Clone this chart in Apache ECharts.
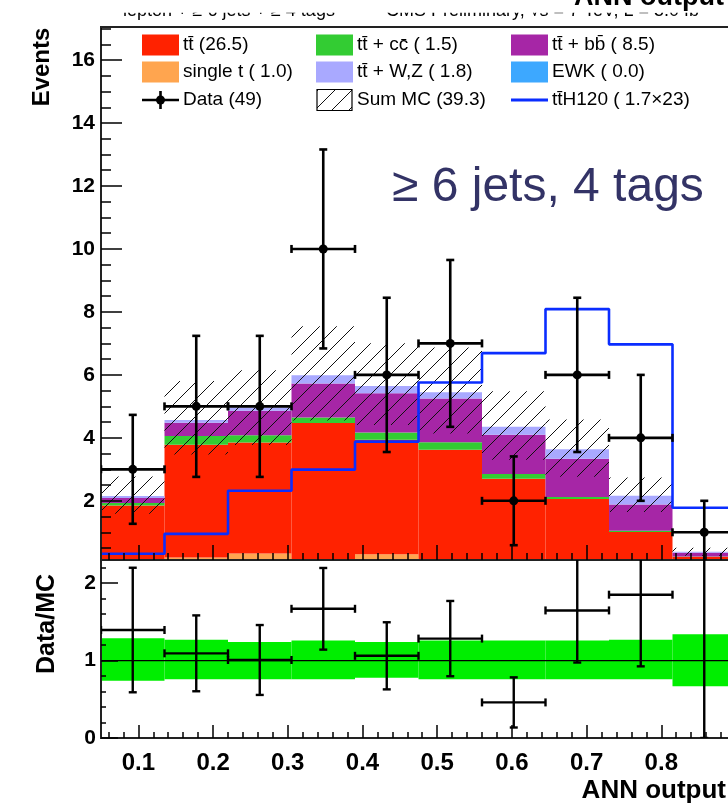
<!DOCTYPE html>
<html>
<head>
<meta charset="utf-8">
<script src="https://cdn.jsdelivr.net/npm/echarts@6/dist/echarts.min.js"></script>
<style>
  html, body { margin: 0; padding: 0; background: #fff; }
  #chart { width: 728px; height: 803px; }
</style>
</head>
<body>
<div id="chart"></div>
<script>
// ANN output binning
const binEdges = [0.05, 0.135, 0.22, 0.305, 0.39, 0.475, 0.56, 0.645, 0.73, 0.815, 0.90];

// expected events per bin, stacked bottom to top
const singleTop = [0.05, 0.20, 0.33, 0.05, 0.30, 0.02, 0.02, 0.02, 0.01, 0.00];
const ttLight   = [1.80, 3.58, 3.52, 4.42, 3.64, 3.60, 2.68, 2.04, 1.00, 0.22];
const ttCC      = [0.08, 0.28, 0.23, 0.18, 0.23, 0.24, 0.15, 0.06, 0.04, 0.01];
const ttBB      = [0.16, 0.42, 0.78, 1.08, 1.25, 1.39, 1.25, 1.22, 0.83, 0.12];
const ttWZ      = [0.06, 0.09, 0.10, 0.26, 0.23, 0.20, 0.25, 0.30, 0.28, 0.03];
const ewk       = [0.00, 0.00, 0.00, 0.00, 0.00, 0.00, 0.00, 0.00, 0.00, 0.00];

// ttH (mH = 120) signal, scaled by 23
const ttH120 = [0.32, 0.95, 2.32, 2.99, 3.88, 5.76, 6.69, 8.09, 6.97, 1.78];

// observed events and their errors
const dataCounts = [3, 5, 5, 10, 6, 7, 2, 6, 4, 1];
const dataErr    = [1.73, 2.24, 2.24, 3.16, 2.45, 2.65, 1.41, 2.45, 2.00, 1.00];

// relative MC uncertainty (lower / upper edge of the band)
const bandLo = [0.74, 0.76, 0.76, 0.76, 0.78, 0.76, 0.76, 0.76, 0.76, 0.67];
const bandHi = [1.29, 1.27, 1.24, 1.26, 1.24, 1.26, 1.26, 1.26, 1.27, 1.34];

// axis ranges and tick values
const xMin = 0.05, xMax = 0.90;
const yTopMin = 0.12, yTopMax = 17.05;
const yRatioMin = 0, yRatioMax = 2.3;
const xMajorTicks = [0.1, 0.2, 0.3, 0.4, 0.5, 0.6, 0.7, 0.8, 0.9];
const xTickLabels = [0.1, 0.2, 0.3, 0.4, 0.5, 0.6, 0.7, 0.8];
const yTopMajor = [2, 4, 6, 8, 10, 12, 14, 16];
const yRatioMajor = [0, 1, 2];

// minor tick positions
const xMinorTicks = [];
for (let v = 6; v <= 88; v += 2) if (v % 10) xMinorTicks.push(v / 100);
const yTopMinor = [];
for (let v = 1; v <= 34; v++) if (v % 4) yTopMinor.push(v / 2);
const yRatioMinor = [];
for (let v = 1; v <= 11; v++) if (v % 5) yRatioMinor.push(v / 5);

const FONT = '"Liberation Sans", Arial, Helvetica, sans-serif';

const processes = [
  { name: 'single t', values: singleTop, color: '#ffa54f' },
  { name: 'tt', values: ttLight, color: '#ff2200' },
  { name: 'tt+cc', values: ttCC, color: '#33cc33' },
  { name: 'tt+bb', values: ttBB, color: '#a626a6' },
  { name: 'tt+W,Z', values: ttWZ, color: '#a9a9ff' },
  { name: 'EWK', values: ewk, color: '#3da8ff' }
];

const nBins = dataCounts.length;
const sumMC = new Array(nBins).fill(0);
const stackSeries = processes.map(p => {
  const rows = [];
  for (let i = 0; i < nBins; i++) {
    const base = sumMC[i];
    sumMC[i] += p.values[i];
    rows.push([binEdges[i], binEdges[i + 1], base, sumMC[i]]);
  }
  return { name: p.name, color: p.color, rows };
});

// diagonal hatch tile for the MC uncertainty
function hatchTile(size, color, lw) {
  const c = document.createElement('canvas');
  c.width = c.height = size;
  const g = c.getContext('2d');
  g.strokeStyle = color;
  g.lineWidth = lw;
  g.beginPath();
  g.moveTo(-1, size + 1); g.lineTo(size + 1, -1);
  g.moveTo(-size / 2 - 1, size / 2 + 1); g.lineTo(size / 2 + 1, -size / 2 - 1);
  g.moveTo(size / 2 - 1, size * 1.5 + 1); g.lineTo(size * 1.5 + 1, size / 2 - 1);
  g.stroke();
  return c;
}
const hatch = hatchTile(17, '#111', 1);

function rectRender(fillFn) {
  return function (params, api) {
    const p0 = api.coord([api.value(0), api.value(3)]);
    const p1 = api.coord([api.value(1), api.value(2)]);
    const cs = params.coordSys;
    const shape = echarts.graphic.clipRectByRect(
      { x: p0[0], y: p0[1], width: p1[0] - p0[0], height: p1[1] - p0[1] },
      { x: cs.x, y: cs.y, width: cs.width, height: cs.height }
    );
    if (!shape || shape.height <= 0) return null;
    return { type: 'rect', shape, style: { fill: fillFn(api) } };
  };
}

function crossRender(withDot, lw) {
  return function (params, api) {
    const lo = api.value(0), hi = api.value(1), y = api.value(2), e = api.value(3);
    const xc = (lo + hi) / 2;
    const c = api.coord([xc, y]);
    const pL = api.coord([lo, y]), pR = api.coord([hi, y]);
    const pT = api.coord([xc, y + e]), pB = api.coord([xc, y - e]);
    const k = 4;
    const seg = (x1, y1, x2, y2) => ({
      type: 'line', shape: { x1, y1, x2, y2 },
      style: { stroke: '#000', lineWidth: lw, lineCap: 'butt' }
    });
    const ch = [
      seg(pL[0], c[1], pR[0], c[1]),
      seg(c[0], pT[1], c[0], pB[1]),
      seg(pL[0], c[1] - k, pL[0], c[1] + k),
      seg(pR[0], c[1] - k, pR[0], c[1] + k),
      seg(c[0] - k, pT[1], c[0] + k, pT[1]),
      seg(c[0] - k, pB[1], c[0] + k, pB[1])
    ];
    if (withDot) ch.push({ type: 'circle', shape: { cx: c[0], cy: c[1], r: 4.5 }, style: { fill: '#000' } });
    return { type: 'group', children: ch };
  };
}

// top panel: MC uncertainty band, signal step line, data; bottom panel: ratio
const hatchRows = [], dataRows = [], sigLine = [];
const ratioBandRows = [], ratioRows = [];
for (let i = 0; i < nBins; i++) {
  hatchRows.push([binEdges[i], binEdges[i + 1], sumMC[i] * bandLo[i], sumMC[i] * bandHi[i]]);
  dataRows.push([binEdges[i], binEdges[i + 1], dataCounts[i], dataErr[i]]);
  sigLine.push([binEdges[i], ttH120[i]], [binEdges[i + 1], ttH120[i]]);
  ratioBandRows.push([binEdges[i], binEdges[i + 1], bandLo[i], bandHi[i]]);
  ratioRows.push([binEdges[i], binEdges[i + 1], dataCounts[i] / sumMC[i], dataErr[i] / sumMC[i]]);
}

const tickLine = { color: '#000', width: 1.5 };
function xAx(grid, extra) {
  return Object.assign({
    type: 'value', gridIndex: grid, min: xMin, max: xMax, position: 'bottom',
    splitLine: { show: false }, axisLine: { show: false }, z: 6,
    axisLabel: { show: false }
  }, extra);
}
function yAx(grid, min, max, extra) {
  return Object.assign({
    type: 'value', gridIndex: grid, min, max, position: 'left',
    splitLine: { show: false }, axisLine: { show: false }, z: 6,
    axisLabel: { show: false }
  }, extra);
}

const option = {
  animation: false,
  backgroundColor: '#fff',
  grid: [
    { left: 101, top: 27, right: -8, height: 533, show: true, borderColor: '#222', borderWidth: 2, z: 5, containLabel: false, outerBoundsMode: 'none' },
    { left: 101, top: 560, right: -8, height: 178, show: true, borderColor: '#222', borderWidth: 2, z: 5, containLabel: false, outerBoundsMode: 'none' }
  ],
  xAxis: [
    xAx(0, { axisTick: { inside: true, length: 15, customValues: xMajorTicks, lineStyle: tickLine } }),
    xAx(0, { axisTick: { inside: true, length: 7, customValues: xMinorTicks, lineStyle: tickLine } }),
    xAx(1, {
      axisTick: { inside: true, length: 13, customValues: xMajorTicks, lineStyle: tickLine },
      axisLabel: { show: true, customValues: xTickLabels, margin: 13, color: '#000', fontSize: 24, fontWeight: 'bold', fontFamily: FONT }
    }),
    xAx(1, { axisTick: { inside: true, length: 6, customValues: xMinorTicks, lineStyle: tickLine } })
  ],
  yAxis: [
    yAx(0, yTopMin, yTopMax, {
      axisTick: { inside: true, length: 21, customValues: yTopMajor, lineStyle: tickLine },
      axisLabel: { show: true, customValues: yTopMajor, margin: 6, color: '#000', fontSize: 21, fontWeight: 'bold', fontFamily: FONT }
    }),
    yAx(0, yTopMin, yTopMax, { axisTick: { inside: true, length: 10, customValues: yTopMinor, lineStyle: tickLine } }),
    yAx(1, yRatioMin, yRatioMax, {
      axisTick: { inside: true, length: 17, customValues: yRatioMajor, lineStyle: tickLine },
      axisLabel: { show: true, customValues: yRatioMajor, margin: 5, color: '#000', fontSize: 21, fontWeight: 'bold', fontFamily: FONT }
    }),
    yAx(1, yRatioMin, yRatioMax, { axisTick: { inside: true, length: 5, customValues: yRatioMinor, lineStyle: tickLine } })
  ],
  series: [
    ...stackSeries.map(s => ({
      type: 'custom', name: s.name, xAxisIndex: 0, yAxisIndex: 0, clip: true,
      itemStyle: { color: s.color },
      encode: { x: [0, 1], y: [2, 3] },
      renderItem: rectRender(api => api.visual('color')),
      data: s.rows, z: 2
    })),
    {
      type: 'custom', name: 'Sum MC', xAxisIndex: 0, yAxisIndex: 0, clip: true,
      encode: { x: [0, 1], y: [2, 3] },
      renderItem: rectRender(() => ({ image: hatch, repeat: 'repeat' })),
      data: hatchRows, z: 3
    },
    {
      type: 'line', name: 'ttH120', xAxisIndex: 0, yAxisIndex: 0, data: sigLine,
      symbol: 'none', lineStyle: { color: '#0a2dff', width: 2.6 }, z: 4
    },
    {
      type: 'custom', name: 'Data', xAxisIndex: 0, yAxisIndex: 0, clip: true,
      encode: { x: [0, 1], y: 2 },
      renderItem: crossRender(true, 2.6), data: dataRows, z: 7
    },
    {
      type: 'custom', name: 'MC unc.', xAxisIndex: 2, yAxisIndex: 2, clip: true,
      itemStyle: { color: '#00ee00' },
      encode: { x: [0, 1], y: [2, 3] },
      renderItem: rectRender(api => api.visual('color')),
      data: ratioBandRows, z: 2
    },
    {
      type: 'line', name: 'unity', xAxisIndex: 2, yAxisIndex: 2,
      data: [[xMin, 1], [xMax, 1]], symbol: 'none',
      lineStyle: { color: '#000', width: 1.3 }, z: 3
    },
    {
      type: 'custom', name: 'Data/MC', xAxisIndex: 2, yAxisIndex: 2, clip: true,
      encode: { x: [0, 1], y: 2 },
      renderItem: crossRender(false, 2.4), data: ratioRows, z: 7
    }
  ],
  graphic: buildGraphics()
};

function buildGraphics() {
  const els = [];
  const font19 = '19px ' + FONT;
  const rowsY = [45, 72, 100];
  const colX = [142, 316, 511];
  const bw = 37, bh = 21;
  const T = 't\u0074\u0304';
  const entries = [
    [0, 0, 'box', '#ff2200', T + ' (26.5)'],
    [1, 0, 'box', '#33cc33', T + ' + cc\u0304 ( 1.5)'],
    [2, 0, 'box', '#a626a6', T + ' + bb\u0304 ( 8.5)'],
    [0, 1, 'box', '#ffa54f', 'single t ( 1.0)'],
    [1, 1, 'box', '#a9a9ff', T + ' + W,Z ( 1.8)'],
    [2, 1, 'box', '#3da8ff', 'EWK ( 0.0)'],
    [0, 2, 'data', '#000', 'Data (49)'],
    [1, 2, 'hatch', '#000', 'Sum MC (39.3)'],
    [2, 2, 'line', '#0a2dff', T + 'H120 ( 1.7\u00d723)']
  ];
  entries.forEach(([c, r, kind, color, text]) => {
    const x = colX[c], yc = rowsY[r];
    if (kind === 'box') {
      els.push({ type: 'rect', z: 20, shape: { x, y: yc - bh / 2, width: bw, height: bh }, style: { fill: color } });
    } else if (kind === 'hatch') {
      els.push({ type: 'rect', z: 20, shape: { x: x + 1, y: yc - bh / 2, width: bw - 2, height: bh }, style: { fill: { image: hatch, repeat: 'repeat' }, stroke: '#000', lineWidth: 1.2 } });
    } else if (kind === 'line') {
      els.push({ type: 'line', z: 20, shape: { x1: x, y1: yc, x2: x + bw, y2: yc }, style: { stroke: color, lineWidth: 3 } });
    } else if (kind === 'data') {
      els.push({ type: 'line', z: 20, shape: { x1: x, y1: yc, x2: x + bw, y2: yc }, style: { stroke: '#000', lineWidth: 2.6 } });
      els.push({ type: 'line', z: 20, shape: { x1: x + bw / 2, y1: yc - 9, x2: x + bw / 2, y2: yc + 9 }, style: { stroke: '#000', lineWidth: 2.6 } });
      els.push({ type: 'circle', z: 20, shape: { cx: x + bw / 2, cy: yc, r: 4.5 }, style: { fill: '#000' } });
    }
    els.push({ type: 'text', z: 20, style: { text, x: x + bw + 4, y: yc, font: font19, fill: '#000', verticalAlign: 'middle' } });
  });

  // header line, its upper part hidden under the title strip
  els.push({ type: 'text', z: 20, style: { text: 'lepton + \u2265 6 jets + \u2265 4 tags', x: 123, y: 10.6, font: '18px ' + FONT, fill: '#000', verticalAlign: 'middle' } });
  els.push({ type: 'text', z: 20, style: { text: 'CMS Preliminary, \u221As = 7 TeV, L = 5.0 fb\u207B\u00B9', x: 386, y: 10.6, font: '18px ' + FONT, fill: '#000', verticalAlign: 'middle' } });
  els.push({ type: 'rect', z: 21, shape: { x: 100, y: 0, width: 628, height: 12.7 }, style: { fill: '#fff' } });
  els.push({ type: 'text', z: 22, style: { text: 'ANN output', x: 574, y: -2.7, font: 'bold 27px ' + FONT, fill: '#000', verticalAlign: 'middle' } });

  // category tag
  els.push({ type: 'text', z: 20, style: { text: '\u2265 6 jets, 4 tags', x: 392, y: 188, font: '48px ' + FONT, fill: '#333366', verticalAlign: 'middle' } });

  // axis titles
  els.push({ type: 'text', z: 20, x: 42, y: 67, rotation: Math.PI / 2, style: { text: 'Events', x: 0, y: 0, font: 'bold 24px ' + FONT, fill: '#000', align: 'center', verticalAlign: 'middle' } });
  els.push({ type: 'text', z: 20, x: 47, y: 624, rotation: Math.PI / 2, style: { text: 'Data/MC', x: 0, y: 0, font: 'bold 25px ' + FONT, fill: '#000', align: 'center', verticalAlign: 'middle' } });
  els.push({ type: 'text', z: 20, style: { text: 'ANN output', x: 726, y: 791, font: 'bold 26px ' + FONT, fill: '#000', align: 'right', verticalAlign: 'middle' } });
  return els;
}

const chart = echarts.init(document.getElementById('chart'), null, { renderer: 'canvas' });
chart.setOption(option);
</script>
</body>
</html>
